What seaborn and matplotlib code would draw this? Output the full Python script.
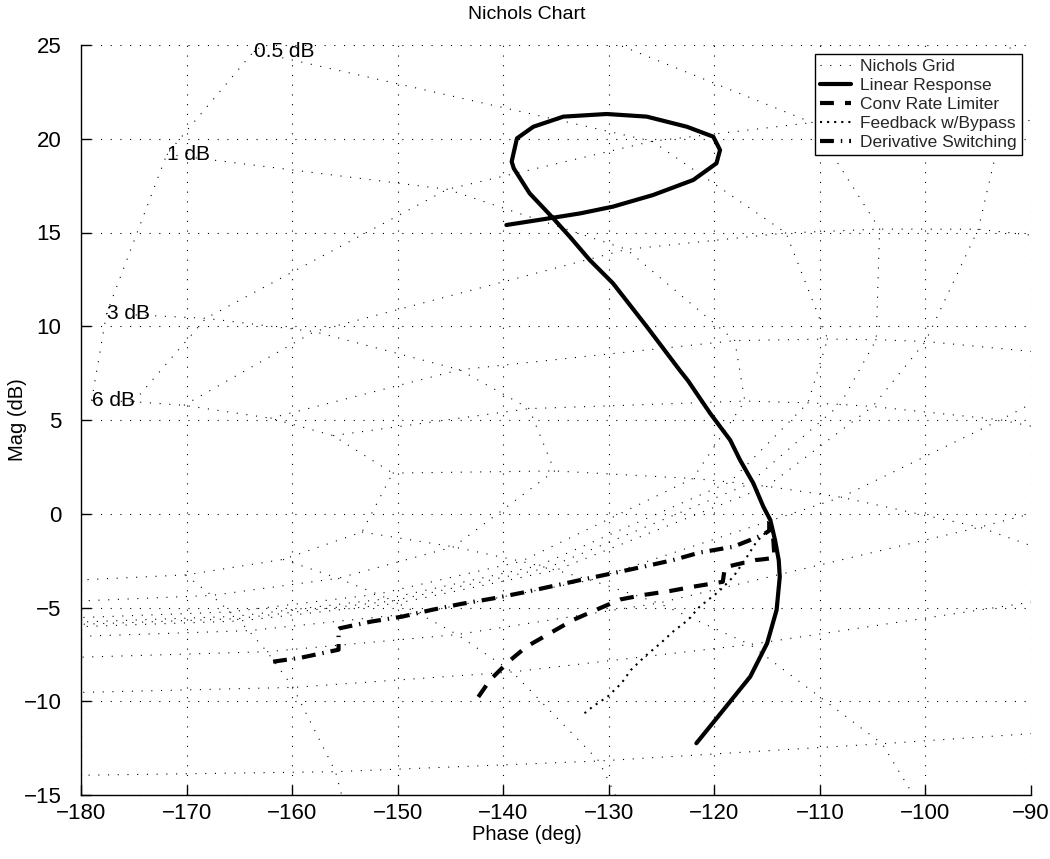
import numpy as np
import pandas as pd
import matplotlib
matplotlib.use("Agg")
import matplotlib.pyplot as plt
import seaborn as sns

# ---------------- data ----------------
# Nichols grid: closed-loop magnitude (dB) and closed-loop phase (deg) levels
cl_mag_db = [6, 3, 1, 0.5, 0.25, 0, -1, -3, -6, -12, -20, -40, -60, -80, -100,
             -120, -140, -160, -180, -200, -220, -240]
cl_phase_deg = [-1, -5, -10, -20, -30, -50, -90, -120, -150, -180, -210, -240,
                -270, -300, -330, -350, -355, -359]
labelled_mags = [6, 3, 1, 0.5]
label_texts = ["6 dB", "3 dB", "1 dB", "0.5 dB"]

linear_phase = [-121.7, -119.15, -116.6, -115.0, -114.1, -113.8, -113.9, -114.25, -114.7,
                -115.36, -116.3, -117.57, -118.5, -120.4, -122.5, -123.3, -126.4, -129.6,
                -131.8, -133.7, -135.4, -137.5, -139.0, -139.2, -138.7, -137.15, -134.3,
                -130.2, -126.4, -122.6, -120.1, -119.46, -119.8, -122.0, -125.8, -129.6,
                -132.7, -135.6, -139.7]
linear_mag = [-12.24, -10.47, -8.69, -6.91, -5.13, -3.36, -2.47, -1.40, -0.33,
              0.38, 1.62, 2.87, 3.93, 5.36, 7.1, 7.67, 9.98, 12.29,
              13.53, 14.78, 15.84, 17.09, 18.42, 18.78, 20.02, 20.64, 21.18,
              21.32, 21.18, 20.64, 20.11, 19.4, 18.69, 17.8, 17.0, 16.38,
              16.02, 15.76, 15.4]

conv_phase = [-142.36, -141.25, -139.5, -137.8, -135.6, -133.4, -131.1, -128.9, -126.7,
              -124.2, -122.0, -119.2, -119.0, -116.1, -115.4, -114.3, -114.4, -114.5]
conv_mag = [-9.77, -8.87, -7.89, -7.09, -6.38, -5.67, -5.1, -4.57, -4.33,
            -4.12, -3.89, -3.63, -2.85, -2.47, -2.43, -2.35, -1.5, -0.9]

feedback_phase = [-132.3, -131.5, -130.1, -128.8, -127.9, -126.6, -125.1, -123.9,
                  -122.5, -121.4, -120.4, -119.6, -118.2, -116.9, -116.0, -115.2]
feedback_mag = [-10.64, -10.28, -9.75, -9.04, -8.33, -7.62, -6.91, -6.28,
                -5.67, -4.96, -4.51, -4.16, -3.36, -2.29, -1.49, -1.04]

deriv_phase = [-161.8, -159.1, -155.6, -155.6, -155.5, -152.5, -149.6, -146.8, -144.0,
               -140.9, -138.1, -135.25, -132.4, -129.6, -126.7, -123.9, -121.4, -118.2,
               -115.4, -114.8, -114.8]
deriv_mag = [-7.89, -7.67, -7.25, -6.15, -6.11, -5.75, -5.49, -5.13, -4.81,
             -4.51, -4.2, -3.85, -3.5, -3.17, -2.82, -2.47, -2.07, -1.76,
             -1.13, -0.9, -0.25]

x_ticks = [-180, -170, -160, -150, -140, -130, -120, -110, -100, -90]
y_ticks = [-15, -10, -5, 0, 5, 10, 15, 20, 25]

# ---------------- style ----------------
sns.set_theme(style="white")
plt.rcParams["font.family"] = ["Liberation Sans", "DejaVu Sans"]
plt.rcParams["lines.scale_dashes"] = False
plt.rcParams["axes.unicode_minus"] = True

DOT = (0, (0.8, 6.2))

fig = plt.figure(figsize=(10.5, 8.59), dpi=100)
ax = fig.add_axes([81 / 1050, 1 - 795 / 859, 950 / 1050, 750 / 859])

# Nichols grid (closed-loop M / N lines mapped to open-loop phase/gain)
G, P = np.meshgrid(10 ** (np.array(cl_mag_db) / 20), np.radians(cl_phase_deg))
z = G * np.exp(1j * P)
H = z / (1 - z)
grid_gain = 20 * np.log10(np.abs(H))
grid_phase = np.fmod(np.degrees(np.angle(H)) + 360, 360) - 360

m_lines = ax.plot(grid_phase, grid_gain, color="black", lw=0.8, linestyle=DOT)
ax.plot(grid_phase.T, grid_gain.T, color="black", lw=0.8, linestyle=DOT)
grid_handle = m_lines[0]

for mval, txt in zip(labelled_mags, label_texts):
    i = cl_mag_db.index(mval)
    ax.text(grid_phase[0, i], grid_gain[0, i], txt, ha="left", va="center",
            fontsize=15, color="black")

# ---------------- response curves ----------------
sns.lineplot(x=linear_phase, y=linear_mag, sort=False, estimator=None, ax=ax,
             color="black", lw=3.0, linestyle="-", label="Linear Response")
sns.lineplot(x=conv_phase, y=conv_mag, sort=False, estimator=None, ax=ax,
             color="black", lw=3.0, linestyle=(0, (10, 8)), label="Conv Rate Limiter")
sns.lineplot(x=feedback_phase, y=feedback_mag, sort=False, estimator=None, ax=ax,
             color="black", lw=1.5, linestyle=(0, (1.5, 3.6)), label="Feedback w/Bypass")
sns.lineplot(x=deriv_phase, y=deriv_mag, sort=False, estimator=None, ax=ax,
             color="black", lw=3.0, linestyle=(0, (10, 5, 1, 5)), label="Derivative Switching")

# ---------------- axes ----------------
ax.set_xlim(-180, -90)
ax.set_ylim(-15, 25)
ax.set_xticks(x_ticks)
ax.set_yticks(y_ticks)
ax.grid(True, color="black", lw=0.8, linestyle=DOT)
for s in ["top", "right"]:
    ax.spines[s].set_visible(False)
for s in ["left", "bottom"]:
    ax.spines[s].set_color("black")
    ax.spines[s].set_linewidth(1.0)
ax.tick_params(direction="in", length=7, width=1, colors="black", labelsize=16,
               left=True, bottom=True)
ax.tick_params(axis="y", pad=14)
ax.tick_params(axis="x", pad=6)
ax.set_xlabel("Phase (deg)", fontsize=14.5, color="black")
ax.set_ylabel("Mag (dB)", fontsize=14.5, color="black")
ax.xaxis.set_label_coords(0.4695, -0.040)
ax.yaxis.set_label_coords(-0.057, 0.5)
ax.set_title("Nichols Chart", fontsize=14, color="black", x=0.4695, y=1.0, pad=19)

handles, labels = ax.get_legend_handles_labels()
lab2h = dict(zip(labels, handles))
order = ["Linear Response", "Conv Rate Limiter", "Feedback w/Bypass", "Derivative Switching"]
leg = ax.legend([grid_handle] + [lab2h[k] for k in order], ["Nichols Grid"] + order,
                loc="upper right", bbox_to_anchor=(0.9905, 0.988), borderaxespad=0,
                fontsize=12.5, handlelength=1.75, handletextpad=0.55, borderpad=0.3,
                labelspacing=0.22, fancybox=False, framealpha=1, edgecolor="black")
leg.get_frame().set_linewidth(1.0)

fig.savefig("out.png", dpi=100)
